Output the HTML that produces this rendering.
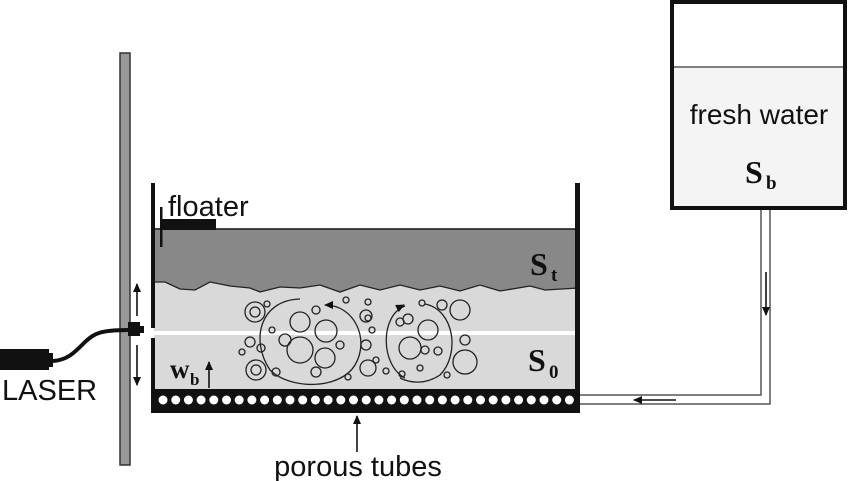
<!DOCTYPE html>
<html><head><meta charset="utf-8"><style>html,body{margin:0;padding:0;background:#fff}svg{display:block}</style></head>
<body>
<svg width="850" height="481" viewBox="0 0 850 481" xmlns="http://www.w3.org/2000/svg" font-family="Liberation Sans, sans-serif">
<defs>
<marker id="ahs" markerWidth="9" markerHeight="8" refX="8" refY="4" orient="auto" markerUnits="userSpaceOnUse"><path d="M0,0 L9,4 L0,8 Z" fill="#111"/></marker>
</defs>
<rect x="120" y="53" width="10" height="412" fill="#999" stroke="#333" stroke-width="1.5"/>
<rect x="154" y="229" width="424" height="161" fill="#d9d9d9"/>
<path d="M154,229 L578,229 L578,288 L545,290 L530,286 L500,291 L480,285 L460,291 L440,286 L420,290 L400,285 L380,290 L360,285 L340,292 L320,285 L300,288 L280,287 L260,292 L250,288 L230,286 L210,282 L195,290 L180,289 L165,282 L154,282 Z" fill="#888" stroke="#222" stroke-width="1.3"/>
<line x1="154" y1="229" x2="578" y2="229" stroke="#222" stroke-width="1.5"/>
<rect x="140" y="331" width="436" height="4" fill="#fff"/>
<rect x="151" y="183" width="4" height="145" fill="#111"/>
<rect x="151" y="338" width="4" height="75" fill="#111"/>
<rect x="575" y="183" width="5" height="230" fill="#111"/>
<rect x="151" y="389" width="429" height="24" fill="#111"/>
<g fill="#fff">
<circle cx="163" cy="400" r="4.5"/><circle cx="175.7" cy="400" r="4.5"/><circle cx="188.4" cy="400" r="4.5"/><circle cx="201.1" cy="400" r="4.5"/><circle cx="213.8" cy="400" r="4.5"/><circle cx="226.5" cy="400" r="4.5"/><circle cx="239.2" cy="400" r="4.5"/><circle cx="251.9" cy="400" r="4.5"/><circle cx="264.6" cy="400" r="4.5"/><circle cx="277.3" cy="400" r="4.5"/><circle cx="290" cy="400" r="4.5"/><circle cx="302.7" cy="400" r="4.5"/><circle cx="315.4" cy="400" r="4.5"/><circle cx="328.1" cy="400" r="4.5"/><circle cx="340.8" cy="400" r="4.5"/><circle cx="353.5" cy="400" r="4.5"/><circle cx="366.2" cy="400" r="4.5"/><circle cx="378.9" cy="400" r="4.5"/><circle cx="391.6" cy="400" r="4.5"/><circle cx="404.3" cy="400" r="4.5"/><circle cx="417" cy="400" r="4.5"/><circle cx="429.7" cy="400" r="4.5"/><circle cx="442.4" cy="400" r="4.5"/><circle cx="455.1" cy="400" r="4.5"/><circle cx="467.8" cy="400" r="4.5"/><circle cx="480.5" cy="400" r="4.5"/><circle cx="493.2" cy="400" r="4.5"/><circle cx="505.9" cy="400" r="4.5"/><circle cx="518.6" cy="400" r="4.5"/><circle cx="531.3" cy="400" r="4.5"/><circle cx="544" cy="400" r="4.5"/><circle cx="556.7" cy="400" r="4.5"/><circle cx="569.4" cy="400" r="4.5"/>
</g>
<rect x="160" y="219" width="56" height="11" fill="#111"/>
<rect x="160" y="207" width="2.5" height="40" fill="#111"/>
<text x="168" y="216" font-size="29" fill="#111">floater</text>
<g fill="none" stroke="#222" stroke-width="1.3">
<path d="M300,299 C260,300 250,340 270,370 C290,390 340,390 355,365 C370,340 355,305 325,305" marker-end="url(#ahs)"/>
<path d="M405,378 C380,365 380,315 405,306" />
<path d="M400,307 L404,305" marker-end="url(#ahs)"/>
<path d="M425,304 C455,310 460,355 440,375 C425,385 410,383 400,378"/>
<circle cx="300" cy="322" r="10"/><circle cx="326" cy="331" r="11"/><circle cx="300" cy="350" r="13"/><circle cx="325" cy="358" r="10"/><circle cx="285" cy="340" r="6"/><circle cx="340" cy="345" r="4"/><circle cx="316" cy="372" r="5"/><circle cx="316" cy="310" r="4"/>
<circle cx="255" cy="312" r="10"/><circle cx="255" cy="312" r="5"/><circle cx="256" cy="370" r="10"/><circle cx="256" cy="370" r="5"/><circle cx="250" cy="342" r="5"/><circle cx="261" cy="348" r="4"/><circle cx="242" cy="352" r="3"/><circle cx="267" cy="304" r="3"/><circle cx="272" cy="330" r="3"/><circle cx="276" cy="372" r="4"/>
<circle cx="346" cy="300" r="3"/><circle cx="368" cy="302" r="3"/><circle cx="366" cy="316" r="6"/><circle cx="368" cy="318" r="3"/><circle cx="372" cy="330" r="3"/><circle cx="366" cy="345" r="5"/><circle cx="368" cy="368" r="8"/><circle cx="376" cy="360" r="3"/><circle cx="348" cy="377" r="3"/>
<circle cx="400" cy="322" r="4"/><circle cx="408" cy="319" r="5"/><circle cx="428" cy="330" r="10"/><circle cx="410" cy="348" r="11"/><circle cx="425" cy="350" r="4"/><circle cx="438" cy="351" r="4"/><circle cx="420" cy="368" r="3"/><circle cx="402" cy="374" r="3"/><circle cx="386" cy="371" r="3"/>
<circle cx="422" cy="303" r="3"/><circle cx="442" cy="305" r="5"/><circle cx="460" cy="310" r="10"/><circle cx="465" cy="340" r="5"/><circle cx="465" cy="362" r="12"/><circle cx="447" cy="375" r="3"/>
</g>
<rect x="128" y="322" width="12" height="14" fill="#111"/>
<rect x="140" y="326" width="4" height="7" fill="#111"/>
<path d="M130,330 C100,330 95,333 85,342 C75,352 68,360 53,361" fill="none" stroke="#111" stroke-width="4"/>
<rect x="0" y="349" width="49" height="21" fill="#111"/>
<rect x="48" y="353" width="5" height="14" fill="#111"/>
<text x="2" y="400" font-size="29" fill="#111">LASER</text>
<line x1="137" y1="316" x2="137" y2="284" stroke="#111" stroke-width="1.6" marker-end="url(#ahs)"/>
<line x1="137" y1="345" x2="137" y2="385" stroke="#111" stroke-width="1.6" marker-end="url(#ahs)"/>
<text x="170" y="378" font-size="27" font-weight="bold" font-family="Liberation Serif, serif" fill="#111">w</text>
<text x="190" y="385" font-size="17" font-weight="bold" font-family="Liberation Serif, serif" fill="#111">b</text>
<line x1="209" y1="388" x2="209" y2="362" stroke="#111" stroke-width="1.6" marker-end="url(#ahs)"/>
<text x="530" y="275" font-size="32" font-weight="bold" font-family="Liberation Serif, serif" fill="#111">S</text>
<text x="551" y="281" font-size="19" font-weight="bold" font-family="Liberation Serif, serif" fill="#111">t</text>
<text x="528" y="371" font-size="32" font-weight="bold" font-family="Liberation Serif, serif" fill="#111">S</text>
<text x="549" y="378" font-size="19" font-weight="bold" font-family="Liberation Serif, serif" fill="#111">0</text>
<rect x="672" y="2" width="173" height="206" fill="#fff" stroke="#111" stroke-width="4"/>
<rect x="674" y="68" width="169" height="138" fill="#f4f4f4"/>
<line x1="674" y1="67" x2="843" y2="67" stroke="#333" stroke-width="1.3"/>
<text x="759" y="124" font-size="28" text-anchor="middle" fill="#111">fresh water</text>
<text x="745" y="183" font-size="32" font-weight="bold" font-family="Liberation Serif, serif" fill="#111">S</text>
<text x="766" y="189" font-size="19" font-weight="bold" font-family="Liberation Serif, serif" fill="#111">b</text>
<path d="M761,210 L761,395 L580,395" fill="none" stroke="#555" stroke-width="1.5"/>
<path d="M770,210 L770,404 L580,404" fill="none" stroke="#555" stroke-width="1.5"/>
<line x1="766" y1="272" x2="766" y2="315" stroke="#111" stroke-width="1.6" marker-end="url(#ahs)"/>
<line x1="676" y1="400" x2="634" y2="400" stroke="#111" stroke-width="1.6" marker-end="url(#ahs)"/>
<line x1="357" y1="452" x2="357" y2="416" stroke="#111" stroke-width="1.6" marker-end="url(#ahs)"/>
<text x="358" y="476" font-size="29" text-anchor="middle" fill="#111">porous tubes</text>
</svg>
</body></html>
